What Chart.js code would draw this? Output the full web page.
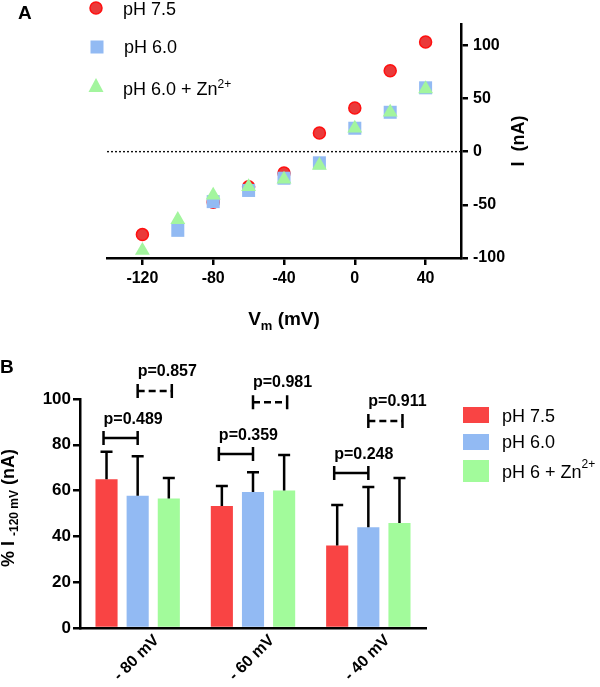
<!DOCTYPE html>
<html>
<head>
<meta charset="utf-8">
<script src="https://cdn.jsdelivr.net/npm/chart.js@4.4.1/dist/chart.umd.min.js"></script>
<style>
  html, body { margin: 0; padding: 0; background: #fff; }
  #wrap { position: relative; width: 600px; height: 687px; }
  canvas { position: absolute; left: 0; }
  #ivChart { top: 0; }
  #barChart { top: 345px; }
</style>
</head>
<body>
<div id="wrap">
  <canvas id="ivChart" width="600" height="345"></canvas>
  <canvas id="barChart" width="600" height="342"></canvas>
</div>
<script>
// ---- panel A : I-V curves ----
const voltages = [-120, -100, -80, -60, -40, -20, 0, 20, 40];
const currentPh75 = [-78, null, -47.5, -33, -20, 17.5, 41, 76, 103];
const currentPh60 = [null, -74, -47, -36.5, -25, -10.5, 22, 37, 60];
const currentPh60Zn = [-93, -64, -41, -33, -26, -13, 22, 37, 59];
const vTicks = [-120, -80, -40, 0, 40];
const iTicks = [-100, -50, 0, 50, 100];

// ---- panel B : % of I at -120 mV ----
const barLabels = ['- 80 mV', '- 60 mV', '- 40 mV'];
const pct75 = [65, 53.3, 36];
const sd75 = [12, 8.7, 17.7];
const pct60 = [57.7, 59.4, 44];
const sd60 = [17.3, 8.6, 17.6];
const pct60Zn = [56.5, 60, 45.8];
const sd60Zn = [9, 15.6, 19.7];
const pSolid = ['0.489', '0.359', '0.248'];     // pH 7.5 vs pH 6.0
const levelSolid = [83, 76, 67.7];
const pDashed = ['0.857', '0.981', '0.911'];    // pH 6.0 vs pH 6 + Zn
const levelDashed = [103.5, 98.6, 90.4];

const FONT = '"Liberation Sans", Arial, Helvetica, sans-serif';
Chart.defaults.font.family = FONT;
Chart.defaults.color = '#000';

const RED = '#f94444', RED_EDGE = '#ff1010', RED_FILL = '#ea3a3a';
const BLUE = '#92baf3';
const GREEN = '#a3f59e';
const BAR_GREEN = '#a2fb9b';

// draws text made of pieces (for sub/superscripts)
function richText(ctx, parts, x, y, align) {
  let total = 0;
  parts.forEach(p => {
    ctx.font = (p.bold ? 'bold ' : '') + p.size + 'px ' + FONT;
    p.w = ctx.measureText(p.t).width;
    total += p.w;
  });
  let cx = align === 'center' ? x - total / 2 : x;
  ctx.textAlign = 'left';
  ctx.textBaseline = 'alphabetic';
  parts.forEach(p => {
    ctx.font = (p.bold ? 'bold ' : '') + p.size + 'px ' + FONT;
    ctx.fillText(p.t, cx, y + (p.dy || 0));
    cx += p.w;
  });
}

const ivDecor = {
  id: 'ivDecor',
  beforeDatasetsDraw(chart) {
    const { ctx, chartArea, scales: { y } } = chart;
    const y0 = y.getPixelForValue(0);
    ctx.save();
    ctx.strokeStyle = '#111';
    ctx.lineWidth = 1.4;
    ctx.setLineDash([2, 2]);
    ctx.beginPath();
    ctx.moveTo(chartArea.left, y0);
    ctx.lineTo(chartArea.right, y0);
    ctx.stroke();
    ctx.restore();
  },
  afterDraw(chart) {
    const { ctx } = chart;
    ctx.save();
    ctx.fillStyle = '#000';
    ctx.font = 'bold 19px ' + FONT;
    ctx.fillText('A', 18, 19);

    // legend markers
    ctx.beginPath();
    ctx.arc(96, 8, 6, 0, Math.PI * 2);
    ctx.fillStyle = RED_FILL;
    ctx.fill();
    ctx.lineWidth = 1.5;
    ctx.strokeStyle = RED_EDGE;
    ctx.stroke();
    ctx.fillStyle = BLUE;
    ctx.fillRect(90.5, 40.5, 13, 13);
    ctx.fillStyle = GREEN;
    ctx.beginPath();
    ctx.moveTo(96, 78);
    ctx.lineTo(103.5, 92);
    ctx.lineTo(88.5, 92);
    ctx.closePath();
    ctx.fill();

    ctx.fillStyle = '#000';
    richText(ctx, [{ t: 'pH 7.5', size: 18 }], 123, 15);
    richText(ctx, [{ t: 'pH 6.0', size: 18 }], 124, 53);
    richText(ctx, [{ t: 'pH 6.0 + Zn', size: 18 }, { t: '2+', size: 12, dy: -7 }], 123, 95);

    // x title
    richText(ctx, [{ t: 'V', size: 19, bold: true }, { t: 'm', size: 13, bold: true, dy: 5 },
      { t: ' (mV)', size: 19, bold: true }], (chart.chartArea.left + chart.chartArea.right) / 2, 325, 'center');

    // y title (right side, reads bottom to top)
    ctx.translate(524, 141);
    ctx.rotate(-Math.PI / 2);
    richText(ctx, [{ t: 'I  (nA)', size: 18, bold: true }], 0, 0, 'center');
    ctx.restore();
  }
};

new Chart(document.getElementById('ivChart'), {
  type: 'scatter',
  data: {
    datasets: [
      {
        label: 'pH 7.5',
        data: voltages.map((v, i) => ({ x: v, y: currentPh75[i] })),
        pointStyle: 'circle', pointRadius: 6, pointBorderWidth: 1.5,
        backgroundColor: RED_FILL, borderColor: RED_EDGE, order: 3
      },
      {
        label: 'pH 6.0',
        data: voltages.map((v, i) => ({ x: v, y: currentPh60[i] })),
        pointStyle: 'rect', pointRadius: 9.2, pointBorderWidth: 0,
        backgroundColor: BLUE, borderColor: BLUE, order: 2
      },
      {
        label: 'pH 6.0 + Zn2+',
        data: voltages.map((v, i) => ({ x: v, y: currentPh60Zn[i] })),
        pointStyle: 'triangle', pointRadius: 8.6, pointBorderWidth: 0,
        backgroundColor: GREEN, borderColor: GREEN, order: 1
      }
    ]
  },
  options: {
    responsive: false,
    devicePixelRatio: 1,
    animation: false,
    layout: { padding: { left: 107, right: 0, top: 24, bottom: 0 } },
    plugins: { legend: { display: false }, tooltip: { enabled: false } },
    scales: {
      x: {
        type: 'linear', position: 'bottom', min: -140, max: 60,
        afterBuildTicks: s => { s.ticks = vTicks.map(v => ({ value: v })); },
        afterFit: s => { s.height = 87; },
        border: { color: '#000', width: 2.5 },
        grid: { drawOnChartArea: false, color: '#000', lineWidth: 2.5, tickLength: 7 },
        ticks: { color: '#000', font: { size: 16, weight: 'bold' }, padding: 4 }
      },
      y: {
        type: 'linear', position: 'right', min: -100, max: 120,
        afterBuildTicks: s => { s.ticks = iTicks.map(v => ({ value: v })); },
        afterFit: s => { s.width = 139; },
        border: { color: '#000', width: 2.5 },
        grid: { drawOnChartArea: false, color: '#000', lineWidth: 2.5, tickLength: 7 },
        ticks: { color: '#000', font: { size: 16, weight: 'bold' }, padding: 5 }
      }
    }
  },
  plugins: [ivDecor]
});

// ---- panel B plugins ----
const sds = [sd75, sd60, sd60Zn];

const barDecor = {
  id: 'barDecor',
  afterDatasetsDraw(chart) {
    const { ctx, scales: { y } } = chart;
    ctx.save();
    ctx.strokeStyle = '#000';
    ctx.lineWidth = 2.5;
    chart.data.datasets.forEach((ds, i) => {
      const meta = chart.getDatasetMeta(i);
      meta.data.forEach((bar, j) => {
        const top = y.getPixelForValue(ds.data[j] + sds[i][j]);
        ctx.beginPath();
        ctx.moveTo(bar.x, bar.y);
        ctx.lineTo(bar.x, top);
        ctx.moveTo(bar.x - 6, top);
        ctx.lineTo(bar.x + 6, top);
        ctx.stroke();
      });
    });
    ctx.restore();
  },
  afterDraw(chart) {
    const { ctx, scales: { y } } = chart;
    const m0 = chart.getDatasetMeta(0), m1 = chart.getDatasetMeta(1), m2 = chart.getDatasetMeta(2);
    ctx.save();
    ctx.strokeStyle = '#000';
    ctx.fillStyle = '#000';
    ctx.lineWidth = 2.5;

    function bracket(x1, x2, yp, dashed) {
      ctx.setLineDash([]);
      ctx.beginPath();
      ctx.moveTo(x1, yp - 7); ctx.lineTo(x1, yp + 7);
      ctx.moveTo(x2, yp - 7); ctx.lineTo(x2, yp + 7);
      ctx.stroke();
      if (dashed) ctx.setLineDash([7, 4]);
      ctx.beginPath();
      ctx.moveTo(x1, yp); ctx.lineTo(x2, yp);
      ctx.stroke();
      ctx.setLineDash([]);
    }

    for (let j = 0; j < barLabels.length; j++) {
      const ys = y.getPixelForValue(levelSolid[j]);
      const xa = m0.data[j].x - 3, xb = m1.data[j].x;
      bracket(xa, xb, ys, false);
      richText(ctx, [{ t: 'p=' + pSolid[j], size: 16, bold: true }], xa, ys - 14);

      const yd = y.getPixelForValue(levelDashed[j]);
      const xc = m1.data[j].x, xd = m2.data[j].x + 3;
      bracket(xc, xd, yd, true);
      richText(ctx, [{ t: 'p=' + pDashed[j], size: 16, bold: true }], xc, yd - 15);
    }

    ctx.font = 'bold 19px ' + FONT;
    ctx.fillText('B', 0, 28);

    // legend
    const items = [
      { c: RED, label: [{ t: 'pH 7.5', size: 18 }], box: [62, 16], base: 77 },
      { c: BLUE, label: [{ t: 'pH 6.0', size: 18 }], box: [89, 16], base: 103 },
      { c: BAR_GREEN, label: [{ t: 'pH 6 + Zn', size: 18 }, { t: '2+', size: 12, dy: -10 }], box: [115, 22], base: 133 }
    ];
    items.forEach(it => {
      ctx.fillStyle = it.c;
      ctx.fillRect(463, it.box[0], 26, it.box[1]);
      ctx.fillStyle = '#000';
      richText(ctx, it.label, 502, it.base);
    });

    // y title
    ctx.translate(14, 163);
    ctx.rotate(-Math.PI / 2);
    richText(ctx, [{ t: '% I ', size: 18, bold: true }, { t: '-120 mV', size: 12, bold: true, dy: 4 },
      { t: ' (nA)', size: 18, bold: true }], 0, 0, 'center');
    ctx.restore();
  }
};

new Chart(document.getElementById('barChart'), {
  type: 'bar',
  data: {
    labels: barLabels,
    datasets: [
      { label: 'pH 7.5', data: pct75, backgroundColor: RED },
      { label: 'pH 6.0', data: pct60, backgroundColor: BLUE },
      { label: 'pH 6 + Zn2+', data: pct60Zn, backgroundColor: BAR_GREEN }
    ]
  },
  options: {
    responsive: false,
    devicePixelRatio: 1,
    animation: false,
    categoryPercentage: 0.81,
    barPercentage: 0.71,
    layout: { padding: { left: 0, right: 174, top: 54, bottom: 0 } },
    plugins: { legend: { display: false }, tooltip: { enabled: false } },
    scales: {
      x: {
        afterFit: s => { s.height = 59; },
        border: { color: '#000', width: 2.5 },
        grid: { display: true, drawOnChartArea: false, drawTicks: false },
        ticks: { color: '#000', font: { size: 16, weight: 'bold' }, minRotation: 45, maxRotation: 45,
          autoSkip: false, padding: 3, labelOffset: 19 }
      },
      y: {
        min: 0, max: 100,
        afterFit: s => { s.width = 80; },
        border: { color: '#000', width: 2.5 },
        grid: { drawOnChartArea: false, color: '#000', lineWidth: 2.5, tickLength: 7 },
        ticks: { stepSize: 20, color: '#000', font: { size: 17, weight: 'bold' }, padding: 2 }
      }
    }
  },
  plugins: [barDecor]
});
</script>
</body>
</html>
